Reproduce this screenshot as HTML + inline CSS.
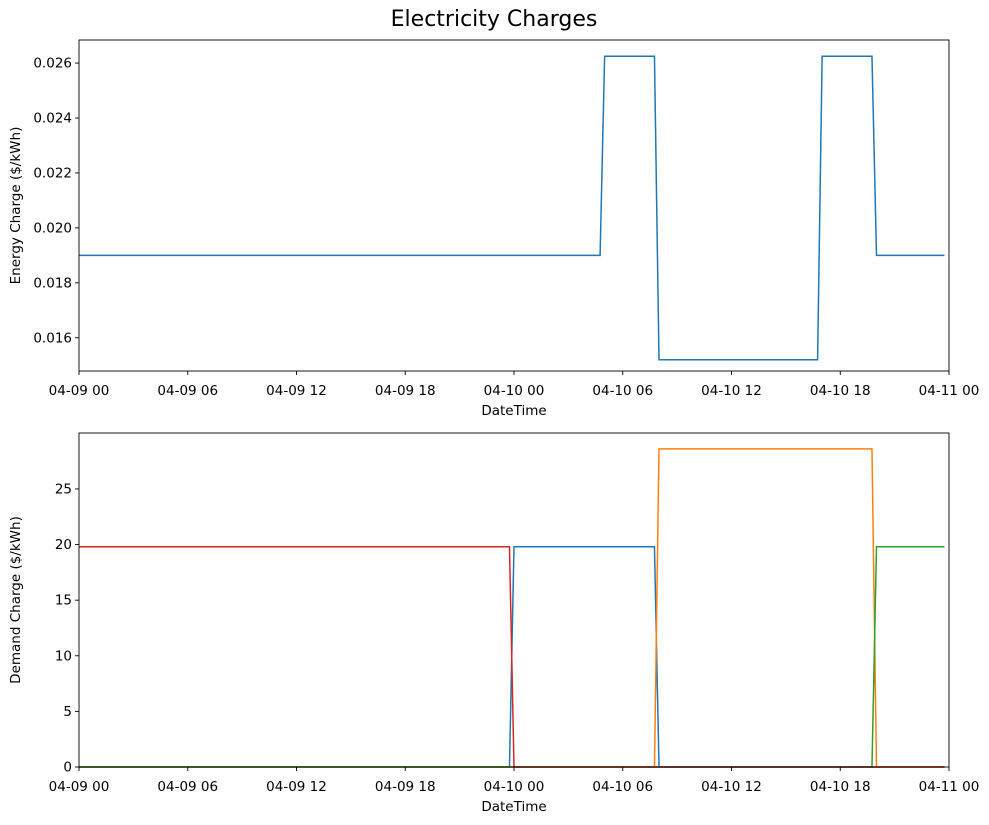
<!DOCTYPE html>
<html><head><meta charset="utf-8"><style>
body{margin:0;background:#fff;}
svg text{font-family:"DejaVu Sans","Liberation Sans",sans-serif;fill:#000;}
</style></head><body>
<svg id="c" width="989" height="820" xmlns="http://www.w3.org/2000/svg">
<text x="494" y="26" font-size="22" text-anchor="middle">Electricity Charges</text>
</svg>
<script>
const xTickLabels=["04-09 00","04-09 06","04-09 12","04-09 18","04-10 00","04-10 06","04-10 12","04-10 18","04-11 00"];
const xTickHours=[0,6,12,18,24,30,36,42,48];
const energyTimes=[0,28.75,29,31.75,32,40.75,41,43.75,44,47.75];
const energyValues=[0.019,0.019,0.02625,0.02625,0.0152,0.0152,0.02625,0.02625,0.019,0.019];
const energyTicks=[0.016,0.018,0.020,0.022,0.024,0.026];
const demandTicks=[0,5,10,15,20,25];
const demandTimes=[0,23.75,24,31.75,32,43.75,44,47.75];
const demandBlue=[0,0,19.8,19.8,0,0,0,0];
const demandOrange=[0,0,0,0,28.6,28.6,0,0];
const demandGreen=[0,0,0,0,0,0,19.8,19.8];
const demandRed=[19.8,19.8,0,0,0,0,0,0];

const svg=document.getElementById('c');
const NS="http://www.w3.org/2000/svg";
function mk(tag,attrs,parent){const e=document.createElementNS(NS,tag);for(const k in attrs)e.setAttribute(k,attrs[k]);(parent||svg).appendChild(e);return e;}

function panel(top,bottom,yMin,yMax,yTicks,fmt,ylabel,series,name){
  const L=79,R=949;
  const g=mk('g',{});
  
  
  const xs=h=>L+(R-L)*h/48;
  const ys=v=>bottom-(bottom-top)*(v-yMin)/(yMax-yMin);
  series.forEach(s=>{
    const pts=s.t.map((t,i)=>xs(t).toFixed(2)+','+ys(s.v[i]).toFixed(2)).join(' ');
    const p=mk('polyline',{points:pts,fill:'none',stroke:s.c,'stroke-width':1.5},g);
    
    
  });
  const fr=mk('rect',{x:L,y:top,width:R-L,height:bottom-top,fill:'none',stroke:'#000','stroke-width':0.9},g);
  
  
  xTickHours.forEach((h,i)=>{
    const x=xs(h);
    mk('line',{x1:x,x2:x,y1:bottom,y2:bottom+4,stroke:'#000','stroke-width':0.9},g);
    const t=mk('text',{x:x,y:bottom+24,'font-size':13.5,'text-anchor':'middle'},g);
    t.textContent=xTickLabels[i];
    
    
  });
  yTicks.forEach(v=>{
    const y=ys(v);
    mk('line',{x1:L-4,x2:L,y1:y,y2:y,stroke:'#000','stroke-width':0.9},g);
    const t=mk('text',{x:L-7,y:y+4.5,'font-size':13.5,'text-anchor':'end'},g);
    t.textContent=fmt(v);
    
    
  });
  const xl=mk('text',{x:(L+R)/2,y:bottom+44,'font-size':13.5,'text-anchor':'middle'},g);
  xl.textContent='DateTime';
  
  
  const cy=(top+bottom)/2;
  const yl=mk('text',{x:20,y:cy,'font-size':13.5,'text-anchor':'middle',transform:'rotate(-90 20 '+cy+')'},g);
  yl.textContent=ylabel;
  
  
}
panel(40,371,0.01479,0.02684,energyTicks,v=>v.toFixed(3),'Energy Charge ($/kWh)',
  [{t:energyTimes,v:energyValues,c:'#1f77b4',n:'energy-charge-line'}],'energy-charge-panel');
panel(433,767,0,30.03,demandTicks,v=>String(v),'Demand Charge ($/kWh)',
  [{t:demandTimes,v:demandBlue,c:'#1f77b4',n:'demand-blue-line'},
   {t:demandTimes,v:demandOrange,c:'#ff7f0e',n:'demand-orange-line'},
   {t:demandTimes,v:demandGreen,c:'#2ca02c',n:'demand-green-line'},
   {t:demandTimes,v:demandRed,c:'#d62728',n:'demand-red-line'}],'demand-charge-panel');
</script>
</body></html>
